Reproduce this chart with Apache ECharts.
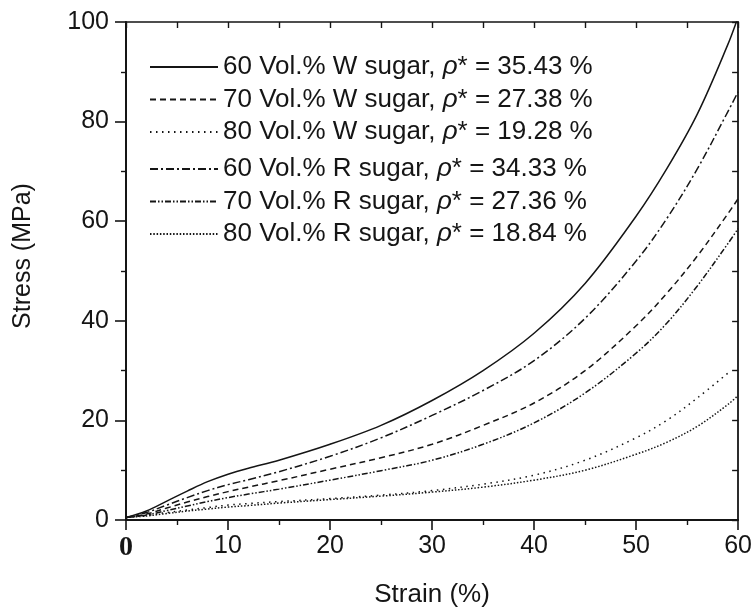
<!DOCTYPE html>
<html>
<head>
<meta charset="utf-8">
<script src="https://cdn.jsdelivr.net/npm/echarts@6/dist/echarts.min.js"></script>
<style>
  html, body { margin: 0; padding: 0; background: #fff; }
  #chart { width: 755px; height: 613px; }
</style>
</head>
<body>
<div id="chart"></div>
<script>
// Strain (%) sample points shared by all curves
const strain = [0, 2, 4, 6, 8, 10, 12, 15, 20, 25, 30, 35, 40, 45, 50, 53, 56, 59, 60];

// Compressive stress (MPa) for each foam
const w60 = [0.5, 1.8, 3.8, 5.8, 7.7, 9.2, 10.4, 12.0, 15.2, 19.0, 24.0, 30.0, 37.5, 47.5, 61.0, 70.5, 81.5, 95.5, 101];
const w70 = [0.5, 1.2, 2.4, 3.6, 4.7, 5.7, 6.6, 7.9, 10.2, 12.5, 15.2, 19.0, 23.5, 30.0, 39.0, 45.5, 53.0, 61.5, 64.5];
const w80 = [0.5, 0.9, 1.5, 2.0, 2.5, 3.0, 3.3, 3.7, 4.3, 5.0, 5.9, 7.2, 9.0, 12.0, 16.5, 20.0, 24.5, 29.5, null];
const r60 = [0.5, 1.5, 3.0, 4.5, 5.9, 7.1, 8.1, 9.7, 12.8, 16.5, 21.0, 26.0, 32.0, 40.5, 52.0, 60.5, 70.5, 82.0, 86];
const r70 = [0.5, 1.0, 1.9, 2.8, 3.7, 4.5, 5.2, 6.2, 8.0, 9.9, 12.0, 15.2, 19.5, 25.5, 33.5, 39.5, 47.0, 55.5, 58.5];
const r80 = [0.5, 0.8, 1.3, 1.8, 2.2, 2.6, 2.9, 3.4, 4.1, 4.8, 5.6, 6.6, 8.0, 10.0, 13.2, 15.6, 18.8, 23.2, 25.0];

// Legend labels
const names = [
  '60 Vol.% W sugar, {i|ρ}* = 35.43 %',
  '70 Vol.% W sugar, {i|ρ}* = 27.38 %',
  '80 Vol.% W sugar, {i|ρ}* = 19.28 %',
  '60 Vol.% R sugar, {i|ρ}* = 34.33 %',
  '70 Vol.% R sugar, {i|ρ}* = 27.36 %',
  '80 Vol.% R sugar, {i|ρ}* = 18.84 %'
];

// Axis tick labels
const xTicks = ['0', '10', '20', '30', '40', '50', '60'];
const yTicks = ['0', '20', '40', '60', '80', '100'];

const INK = '#151515';
const FONT = 'Liberation Sans, Arial, sans-serif';

const curves = [
  { name: names[0], values: w60, dash: 'solid' },
  { name: names[1], values: w70, dash: [6, 4] },
  { name: names[2], values: w80, dash: [1.5, 4.5] },
  { name: names[3], values: r60, dash: [8, 3, 2, 3] },
  { name: names[4], values: r70, dash: [6, 2, 1.5, 2, 1.5, 2] },
  { name: names[5], values: r80, dash: [1.5, 1.8] }
];

const series = curves.map(c => ({
  name: c.name,
  type: 'line',
  xAxisIndex: 0,
  yAxisIndex: 0,
  showSymbol: false,
  symbol: 'none',
  smooth: 0.35,
  connectNulls: false,
  lineStyle: { color: INK, width: 1.5, type: c.dash },
  itemStyle: { color: INK },
  data: strain.map((s, i) => [s, c.values[i]])
}));

const legendBase = {
  orient: 'vertical',
  left: 144,
  itemWidth: 68,
  itemHeight: 14,
  itemGap: 6.5,
  selectedMode: false,
  itemStyle: { color: 'rgba(0,0,0,0)', borderColor: 'rgba(0,0,0,0)', borderWidth: 0 },
  textStyle: {
    fontFamily: FONT, fontSize: 26, color: INK, lineHeight: 26,
    rich: { i: { fontFamily: FONT, fontSize: 26, fontStyle: 'italic', color: INK } }
  }
};

const option = {
  backgroundColor: '#fff',
  animation: false,
  grid: { left: 126, right: 16, top: 22, bottom: 90, containLabel: false },
  legend: [
    Object.assign({}, legendBase, { top: 49, data: names.slice(0, 3) }),
    Object.assign({}, legendBase, { top: 151, data: names.slice(3, 6) })
  ],
  xAxis: [
    {
      type: 'value', position: 'bottom', min: 0, max: 60, interval: 10,
      name: 'Strain (%)', nameLocation: 'middle', nameGap: 62,
      nameTextStyle: { fontFamily: FONT, fontSize: 26, color: INK },
      axisLine: { show: true, onZero: false, lineStyle: { color: INK, width: 2 } },
      axisTick: { show: true, inside: false, length: 10, lineStyle: { color: INK, width: 1.6 } },
      minorTick: { show: true, splitNumber: 2, length: 5, lineStyle: { color: INK, width: 1.4 } },
      splitLine: { show: false },
      axisLabel: {
        margin: 14, fontFamily: FONT, fontSize: 25, color: INK,
        formatter: v => {
          const t = xTicks[Math.round(v / 10)];
          return v === 0 ? '{z|' + t + '}' : t;
        },
        rich: { z: { fontFamily: 'Liberation Serif, serif', fontWeight: 'bold', fontSize: 28, color: INK } }
      }
    },
    {
      type: 'value', position: 'top', min: 0, max: 60, interval: 5,
      axisLine: { show: true, onZero: false, lineStyle: { color: INK, width: 1.6 } },
      axisTick: { show: true, inside: true, length: 6, lineStyle: { color: INK, width: 1.4 } },
      axisLabel: { show: false },
      splitLine: { show: false }
    }
  ],
  yAxis: [
    {
      type: 'value', position: 'left', min: 0, max: 100, interval: 20,
      name: 'Stress (MPa)', nameLocation: 'middle', nameGap: 90,
      nameTextStyle: { fontFamily: FONT, fontSize: 25, color: INK, padding: [0, 0, 0, 30] },
      axisLine: { show: true, onZero: false, lineStyle: { color: INK, width: 2 } },
      axisTick: { show: true, inside: false, length: 11, lineStyle: { color: INK, width: 1.6 } },
      minorTick: { show: true, splitNumber: 2, length: 5, lineStyle: { color: INK, width: 1.4 } },
      splitLine: { show: false },
      axisLabel: {
        margin: 17, fontFamily: FONT, fontSize: 25, color: INK,
        formatter: v => yTicks[Math.round(v / 20)]
      }
    },
    {
      type: 'value', position: 'right', min: 0, max: 100, interval: 10,
      axisLine: { show: true, onZero: false, lineStyle: { color: INK, width: 1.8 } },
      axisTick: { show: true, inside: true, length: 6, lineStyle: { color: INK, width: 1.4 } },
      axisLabel: { show: false },
      splitLine: { show: false }
    }
  ],
  series: series
};

const chart = echarts.init(document.getElementById('chart'), null, { renderer: 'canvas' });
chart.setOption(option);
</script>
</body>
</html>
